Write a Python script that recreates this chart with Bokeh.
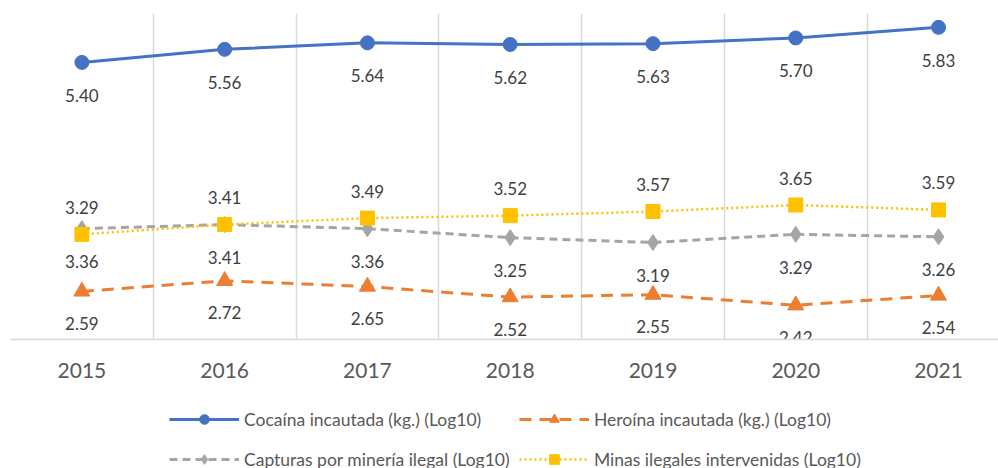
from bokeh.plotting import figure
from bokeh.models import Range1d, FixedTicker, Legend, LegendItem
from bokeh.layouts import column
from bokeh.embed import file_html
from bokeh.resources import INLINE
from bokeh.core.properties import value

years = ["2015", "2016", "2017", "2018", "2019", "2020", "2021"]
cocaina = [5.40, 5.56, 5.64, 5.62, 5.63, 5.70, 5.83]
heroina = [2.59, 2.72, 2.65, 2.52, 2.55, 2.42, 2.54]
capturas = [3.36, 3.41, 3.36, 3.25, 3.19, 3.29, 3.26]
minas = [3.29, 3.41, 3.49, 3.52, 3.57, 3.65, 3.59]
names = ["Cocaína incautada (kg.) (Log10)", "Heroína incautada (kg.) (Log10)",
         "Capturas por minería ilegal (Log10)", "Minas ilegales intervenidas (Log10)"]

x = list(range(len(years)))

p = figure(width=998, height=400, output_backend="svg", toolbar_location=None,
           x_range=Range1d(-0.5, 6.42), y_range=Range1d(2, 6),
           min_border_left=10, min_border_right=0, min_border_top=13, min_border_bottom=61)
p.outline_line_color = None
p.yaxis.visible = False
p.ygrid.visible = False
p.xgrid.ticker = FixedTicker(ticks=[i - 0.5 for i in range(8)])
p.xgrid.grid_line_color = "#D9D9D9"
p.xgrid.grid_line_width = 1.5

ax = p.xaxis[0]
ax.ticker = FixedTicker(ticks=x)
ax.major_label_overrides = {i: y for i, y in enumerate(years)}
ax.major_tick_line_color = None
ax.minor_tick_line_color = None
ax.axis_line_color = "#D9D9D9"
ax.axis_line_width = 1.5
ax.major_label_text_font = "Lato"
ax.major_label_text_font_size = "21px"
ax.major_label_text_color = "#595959"
ax.major_label_standoff = 17

series = [
    (cocaina, "#4472C4", None, 3, "circle", 14, 33),
    (heroina, "#ED7D31", "12 8", 3, "triangle", 16, 32),
    (capturas, "#A5A5A5", "8 5", 3, "diamond", 16, 33),
    (minas, "#FFC000", "2 3", 2.5, "square", 14, -27),
]

for vals, col, dash, lw, mk, sz, off in series:
    kw = dict(line_color=col, line_width=lw)
    if dash:
        kw["line_dash"] = dash
    p.line(x, vals, **kw)
    p.scatter(x, vals, marker=mk, size=sz, fill_color=col, line_color=col)

for vals, col, dash, lw, mk, sz, off in series:
    p.text(x, vals, text=[f"{v:.2f}" for v in vals], y_offset=off,
           text_align="center", text_baseline="middle",
           text_font=value("Lato"), text_font_size="17px", text_color="#404040")

# legend strip
q = figure(width=998, height=68, output_backend="svg", toolbar_location=None,
           x_range=Range1d(0, 998), y_range=Range1d(0, 68),
           min_border=0, min_border_left=0, min_border_right=0,
           min_border_top=0, min_border_bottom=0)
q.axis.visible = False
q.grid.visible = False
q.outline_line_color = None

nan = float("nan")
positions = [(159, 37), (509, 37), (159, -3), (509, -3)]
for (vals, col, dash, lw, mk, sz, off), name, (lx, ly) in zip(series, names, positions):
    kw = dict(line_color=col, line_width=lw)
    if dash:
        kw["line_dash"] = dash
    l = q.line([nan, nan], [nan, nan], **kw)
    s = q.scatter([nan], [nan], marker=mk, size=sz, fill_color=col, line_color=col)
    lg = Legend(items=[LegendItem(label=name, renderers=[l, s])], location=(lx, ly),
                padding=0, margin=0, spacing=0, glyph_width=70, glyph_height=24,
                label_standoff=5, border_line_color=None, background_fill_alpha=0,
                label_text_font="Lato", label_text_font_size="17.5px",
                label_text_color="#595959")
    q.add_layout(lg)

open("out.html", "w").write(file_html(column(p, q, spacing=0), INLINE))
